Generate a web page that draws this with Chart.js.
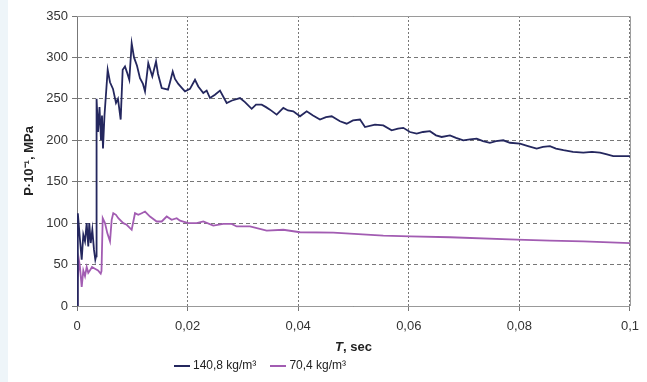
<!DOCTYPE html>
<html>
<head>
<meta charset="utf-8">
<script src="https://cdn.jsdelivr.net/npm/chart.js@4"></script>
<style>
  body { margin: 0; background: #eef5f9; width: 647px; height: 382px; overflow: hidden; font-family: "Liberation Sans", Arial, sans-serif; }
  #wrap { position: absolute; left: 8px; top: 0; width: 639px; height: 382px; background: #fff; }
  #xtitle { position: absolute; left: 327px; top: 339px; font-size: 13px; font-weight: bold; color: #222; }
  #legend { position: absolute; left: 166px; top: 358px; font-size: 12px; color: #222; white-space: nowrap; }
  #legend span.ln { display: inline-block; width: 16px; height: 2px; vertical-align: middle; margin-right: 3px; }
  #legend span.item { margin-right: 14px; }
</style>
</head>
<body>
<div id="wrap">
  <canvas id="chart" width="639" height="382"></canvas>
  <div id="xtitle"><i>T</i>, sec</div>
  <div id="legend"></div>
</div>
<script>
// series 1: 140,8 kg/m3
const tBlue = [0, 0.00015, 0.00054, 0.00085, 0.00114, 0.00145, 0.00175, 0.00204, 0.00222, 0.00248, 0.00277, 0.00307, 0.00331, 0.00344,
  0.00354, 0.0038, 0.00407, 0.00434, 0.00452, 0.0047, 0.00497, 0.00555, 0.00597, 0.00651, 0.00705, 0.00741, 0.0079, 0.00826,
  0.00868, 0.00904, 0.00946, 0.00989, 0.01031, 0.01085, 0.01139, 0.01193, 0.0123, 0.01289, 0.01362, 0.01429, 0.01465, 0.01532,
  0.01591, 0.01646, 0.01682, 0.01731, 0.01772, 0.01832, 0.01899, 0.01953, 0.02043, 0.02134, 0.02193, 0.02284, 0.02345, 0.02405,
  0.02495, 0.02586, 0.02707, 0.02803, 0.02948, 0.03038, 0.03159, 0.03237, 0.0334, 0.03418, 0.0349, 0.03611, 0.03731, 0.03816,
  0.03911, 0.04033, 0.04154, 0.04268, 0.04394, 0.04503, 0.04606, 0.04756, 0.04877, 0.04991, 0.05118, 0.05208, 0.05389, 0.05539,
  0.0569, 0.05805, 0.05901, 0.06022, 0.06143, 0.06257, 0.06383, 0.06492, 0.06595, 0.06745, 0.06854, 0.06986, 0.07107, 0.07228,
  0.07342, 0.07468, 0.07577, 0.07709, 0.0783, 0.08011, 0.08156, 0.08313, 0.08427, 0.08553, 0.08662, 0.08797, 0.0897, 0.09156,
  0.09313, 0.09458, 0.09584, 0.09698, 0.09855, 0.1];
const pBlue = [0, 112, 80, 56, 86, 78, 100, 72, 100, 76, 92, 68, 56, 60,
  250, 210, 240, 200, 230, 190, 230, 285, 270, 262, 245, 250, 225, 285,
  289, 282, 273, 317, 300, 290, 275, 268, 259, 293, 277, 295, 280, 263,
  262, 261, 270, 283, 274, 268, 263, 259, 262, 273, 265, 257, 260, 251,
  255, 260, 245, 248, 251, 246, 238, 243, 243, 240, 237, 231, 239, 236,
  235, 229, 235, 230, 225, 228, 229, 223, 220, 224, 225, 216, 219, 218,
  212, 214, 215, 210, 208, 210, 211, 206, 204, 206, 203, 200, 201, 202,
  199, 197, 199, 200, 197, 196, 193, 190, 192, 193, 190, 188, 186, 185,
  186, 185, 183, 181, 181, 181];

// series 2: 70,4 kg/m3
const tPurple = [0, 0.0001, 0.00036, 0.00054, 0.00085, 0.00114, 0.00145, 0.00175, 0.00204, 0.00235, 0.00271, 0.00325, 0.0038, 0.00429,
  0.00443, 0.00465, 0.00506, 0.00548, 0.00597, 0.00627, 0.00656, 0.00705, 0.00747, 0.00837, 0.00899, 0.00989, 0.01049, 0.01108,
  0.0117, 0.0123, 0.0132, 0.01441, 0.01532, 0.01622, 0.01712, 0.01803, 0.01863, 0.02013, 0.02165, 0.02284, 0.02465, 0.02646,
  0.02797, 0.02888, 0.03128, 0.0343, 0.03731, 0.04033, 0.04635, 0.05539, 0.06022, 0.06745, 0.07951, 0.08553, 0.09156, 0.1];
const pPurple = [0, 30, 55, 47, 23, 43, 36, 47, 40, 43, 47, 45, 43, 39,
  42, 106, 100, 88, 78, 104, 112, 110, 106, 100, 98, 92, 112, 110,
  112, 114, 108, 102, 102, 108, 104, 106, 103, 100, 100, 102, 97, 99,
  99, 96, 96, 91, 92, 89, 88.6, 85, 84, 83, 80, 79, 78, 76];

const seriesNames = ['140,8 kg/m\u00b3', '70,4 kg/m\u00b3'];
const seriesColors = ['#24275e', '#a25cb2'];
const xTicks = [0, 0.02, 0.04, 0.06, 0.08, 0.1];
const yTicks = [0, 50, 100, 150, 200, 250, 300, 350];

function toPoints(xs, ys) {
  return xs.map((x, i) => ({ x: x, y: ys[i] }));
}

function fmt(v) {
  return String(Math.round(v * 100) / 100).replace('.', ',');
}

// top and right frame lines of the plot area
const frame = {
  id: 'frame',
  beforeDatasetsDraw(chart) {
    const a = chart.chartArea, ctx = chart.ctx;
    ctx.save();
    ctx.strokeStyle = '#9a9a9a';
    ctx.lineWidth = 1;
    ctx.beginPath();
    ctx.moveTo(a.left, a.top + 0.5);
    ctx.lineTo(a.right + 0.5, a.top + 0.5);
    ctx.lineTo(a.right + 0.5, a.bottom);
    ctx.stroke();
    ctx.restore();
  }
};

const legend = document.getElementById('legend');
seriesNames.forEach((name, i) => {
  const item = document.createElement('span');
  item.className = 'item';
  item.innerHTML = '<span class="ln" style="background:' + seriesColors[i] + '"></span>' + name;
  legend.appendChild(item);
});

const ctx = document.getElementById('chart').getContext('2d');
new Chart(ctx, {
  type: 'line',
  data: {
    datasets: [
      { label: seriesNames[0], data: toPoints(tBlue, pBlue), borderColor: seriesColors[0], borderWidth: 1.8, pointRadius: 0, tension: 0 },
      { label: seriesNames[1], data: toPoints(tPurple, pPurple), borderColor: seriesColors[1], borderWidth: 1.8, pointRadius: 0, tension: 0 }
    ]
  },
  options: {
    responsive: false,
    animation: false,
    layout: { padding: { left: 10, top: 16, right: 17, bottom: 26 } },
    plugins: { legend: { display: false }, tooltip: { enabled: false } },
    scales: {
      x: {
        type: 'linear',
        min: 0, max: 0.1,
        afterBuildTicks: (s) => { s.ticks = xTicks.map(v => ({ value: v })); },
        afterFit: (s) => { s.height = 50; },
        ticks: { callback: fmt, color: '#333', padding: 8, maxRotation: 0, font: { family: 'Liberation Sans', size: 13 } },
        grid: { color: '#777', lineWidth: 1, tickLength: 5 },
        border: { color: '#999', dash: [2, 2] }
      },
      y: {
        min: 0, max: 350,
        afterBuildTicks: (s) => { s.ticks = yTicks.map(v => ({ value: v })); },
        afterFit: (s) => { s.width = 59; },
        ticks: { color: '#333', padding: 4, font: { family: 'Liberation Sans', size: 13 } },
        grid: { color: '#777', lineWidth: 1, tickLength: 5 },
        border: { color: '#777', dash: [4, 3] },
        title: { display: true, text: 'P\u00b710\u207b\u00b9, MPa', color: '#222', font: { family: 'Liberation Sans', size: 13, weight: 'bold' }, padding: { top: 4, bottom: 0 } }
      }
    }
  },
  plugins: [frame]
});
</script>
</body>
</html>
